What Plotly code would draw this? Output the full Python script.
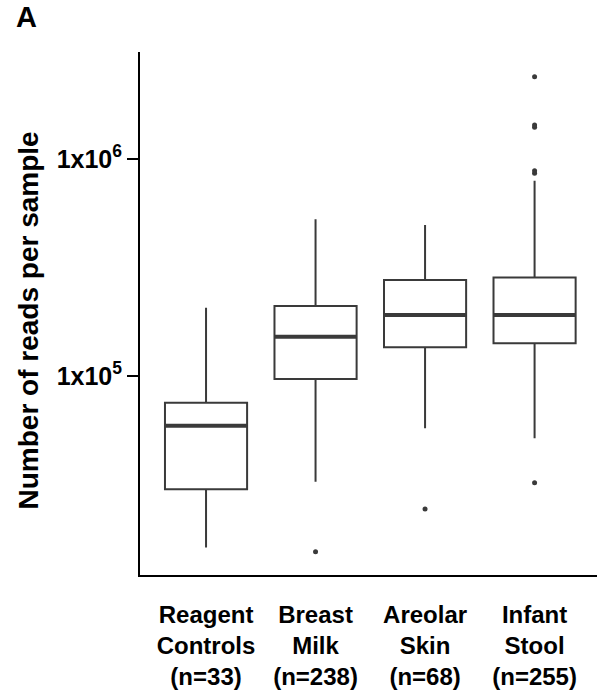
import plotly.graph_objects as go

categories = ["Reagent<br>Controls", "Breast<br>Milk", "Areolar<br>Skin", "Infant<br>Stool"]
n_samples = [33, 238, 68, 255]
lower_whisker = [16200, 32600, 57400, 51600]
q1_vals = [30100, 96900, 135600, 141500]
median_vals = [59000, 151800, 191000, 191000]
q3_vals = [75300, 210200, 277000, 284000]
upper_whisker = [206500, 527000, 496500, 794000]
outliers = [
    [],
    [15500],
    [24400],
    [32200, 859000, 883000, 1399000, 1435000, 2393000],
]

FONT = "Arial, Liberation Sans, sans-serif"
LINE = "#3a3a3a"
BOXW = 0.75

fig = go.Figure()
xs = list(range(len(categories)))
fig.add_trace(go.Box(
    x=xs, q1=q1_vals, median=median_vals, q3=q3_vals,
    lowerfence=lower_whisker, upperfence=upper_whisker,
    boxpoints=False, width=BOXW, whiskerwidth=0,
    fillcolor="white", line=dict(color=LINE, width=2),
    showlegend=False, hoverinfo="skip",
))
# thick median lines
for i, m in enumerate(median_vals):
    fig.add_trace(go.Scatter(
        x=[i - BOXW / 2, i + BOXW / 2], y=[m, m], mode="lines",
        line=dict(color=LINE, width=4), showlegend=False, hoverinfo="skip",
    ))
# outliers
ox, oy = [], []
for i, pts in enumerate(outliers):
    ox += [i] * len(pts)
    oy += pts
fig.add_trace(go.Scatter(
    x=ox, y=oy, mode="markers",
    marker=dict(color=LINE, size=5), showlegend=False, hoverinfo="skip",
))

ticktext = [f"{c}<br>(n={n})" for c, n in zip(categories, n_samples)]

fig.update_layout(
    width=597, height=696,
    margin=dict(l=140, r=0, t=52, b=121),
    plot_bgcolor="white", paper_bgcolor="white",
    font=dict(family=FONT, color="black"),
    xaxis=dict(
        range=[-0.603, 3.57], tickvals=xs, ticktext=ticktext,
        showline=True, linecolor="black", linewidth=2,
        showgrid=False, zeroline=False, ticks="",
        tickfont=dict(size=24, family=FONT, color="black", weight="bold"),
        ticklabelstandoff=17,
    ),
    yaxis=dict(
        type="log", range=[4.083, 6.493],
        tickvals=[1e5, 1e6], ticktext=["1x10<sup>5</sup>", "1x10<sup>6</sup>"],
        showline=True, linecolor="black", linewidth=2,
        showgrid=False, zeroline=False,
        ticks="outside", ticklen=11, tickwidth=2, tickcolor="black",
        tickfont=dict(size=25, family=FONT, color="black", weight="bold"),
    ),
    annotations=[
        dict(
            text="<b>A</b>", xref="paper", yref="paper",
            x=(14 - 140) / 457, y=(575 + 1) / 523, xanchor="left", yanchor="top",
            showarrow=False, font=dict(size=29, family=FONT, color="black"),
        ),
        dict(
            text="<b>Number of reads per sample</b>", xref="paper", yref="paper",
            x=(28 - 140) / 457, y=(575 - 320.5) / 523, xanchor="center", yanchor="middle",
            textangle=-90, showarrow=False,
            font=dict(size=28, family=FONT, color="black"),
        ),
    ],
)

fig.write_html("out.html")
